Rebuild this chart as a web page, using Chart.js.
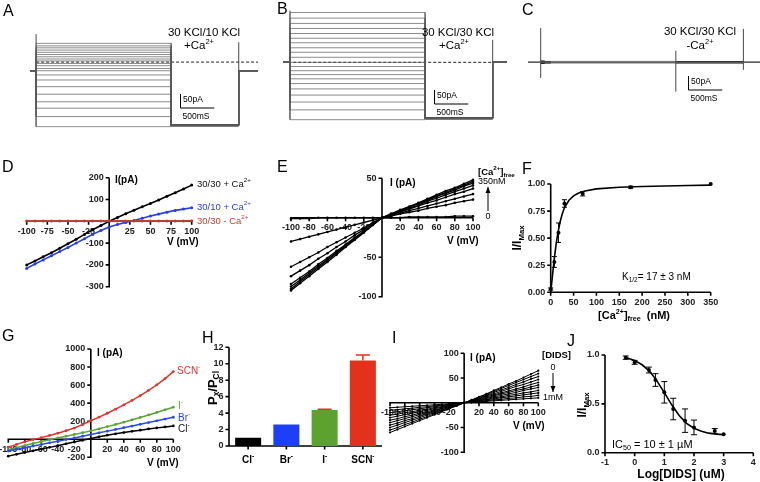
<!DOCTYPE html>
<html>
<head>
<meta charset="utf-8">
<script src="https://cdn.jsdelivr.net/npm/chart.js@4.4.0/dist/chart.umd.min.js"></script>
<style>
  html, body { margin: 0; padding: 0; background: #fff; }
  #wrap { position: relative; width: 760px; height: 482px; overflow: hidden; background: #fff; }
  #wrap canvas { position: absolute; left: 0; top: 0; }
</style>
</head>
<body>
<div id="wrap"></div>
<script>
// ---- data ----
const volts = [-100, -90, -80, -70, -60, -50, -40, -30, -20, -10, 0, 10, 20, 30, 40, 50, 60, 70, 80, 90, 100];

// A-C current traces (pA), step protocol times (ms)
const protocolT = [0, 2000, 3000];
const sweepsA = [98, 89, 82, 74, 66, 58, 50, 42, 35, 26, 18, 8, 0, -15, -33, -57, -84, -111, -134, -164, -200];
const tailA = -195;
const refLevelA = 31;
const spikesA = [[0, 0, 131], [3000, 0, 102]];
const sweepsB = [178, 158, 139, 121, 103, 86, 70, 52, 36, 18, 0, -15, -30, -44, -59, -76, -95, -117, -142, -170, -205];
const tailB = -200;
const refLevelB = 0;
const spikesB = [[0, 0, 185], [3000, 0, 80]];
const sweepsC = [-3, -1, 0, 1, 3];
const tailC = 0;
const spikesC = [[0, -56, 122], [2000, -105, 41], [3000, -27, 119]];
const scaleBarPA = 50, scaleBarMS = 500;

// D
const d3030Ca = [-200, -182, -163, -144, -124, -103, -82, -60, -39, -19, 0, 17, 35, 51, 67, 82, 98, 115, 131, 148, 166];
const d3010Ca = [-216, -196, -177, -158, -139, -120, -100, -80, -60, -42, -26, -15, -5, 4, 14, 24, 33, 42, 50, 56, 62];
const d3030noCa = [1, 1, 1, 1, 1, 1, 1, 1, 1, 1, 1, 1, 1, 1, 1, 1, 1, 1, 1, 1, 2];
const dTicksX = [-100, -75, -50, -25, 0, 25, 50, 75, 100];
const dLabelsX = ['-100', '-75', '-50', '-25', '', '25', '50', '75', '100'];
const dTicksY = [-300, -200, -100, 0, 100, 200];
const dLabelsY = ['-300', '-200', '-100', '', '100', '200'];

// E  (one curve per free Ca2+ step, 0 -> 350 nM)
const eCurves = [
  [-1, -1, -1, 0, 0, 0, 0, 0, 0, 0, 0, 0, 0, 1, 1, 1, 1, 1, 2, 2, 2],
  [-30, -27, -24, -21, -18, -15, -12, -9, -6, -3, 0, 2, 5, 7, 9, 12, 14, 16, 19, 21, 23],
  [-62, -56, -50, -44, -37, -31, -25, -19, -13, -6, 0, 3, 6, 9, 12, 15, 18, 21, 24, 27, 30],
  [-74, -67, -60, -52, -45, -37, -30, -22, -15, -7, 0, 4, 7, 11, 15, 19, 22, 26, 30, 33, 37],
  [-84, -76, -68, -59, -51, -42, -34, -25, -17, -8, 0, 4, 8, 12, 16, 21, 25, 29, 33, 37, 41],
  [-87, -79, -70, -61, -53, -44, -35, -26, -18, -9, 0, 4, 9, 13, 18, 22, 27, 31, 35, 40, 44],
  [-90, -81, -72, -63, -54, -45, -36, -27, -18, -9, 0, 5, 9, 14, 18, 23, 28, 32, 37, 41, 46],
  [-92, -83, -74, -65, -56, -47, -37, -28, -19, -9, 0, 5, 10, 14, 19, 24, 29, 34, 38, 43, 48]
];
const ivTicksX = [-100, -80, -60, -40, -20, 0, 20, 40, 60, 80, 100];
const ivLabelsX = ['-100', '-80', '-60', '-40', '-20', '', '20', '40', '60', '80', '100'];
const eTicksY = [-100, -50, 0, 50];
const eLabelsY = ['-100', '-50', '', '50'];

// F
const caConc = [0, 8, 17, 30, 70, 175, 350];
const caResp = [0.03, 0.28, 0.55, 0.82, 0.91, 0.97, 1.0];
const caErr = [0.01, 0.05, 0.09, 0.035, 0.02, 0.01, 0];
const caFitX = [0, 3, 6, 9, 12, 15, 20, 25, 30, 40, 50, 60, 75, 100, 150, 200, 250, 300, 350];
const caFitY = [0, 0.12, 0.24, 0.35, 0.45, 0.53, 0.64, 0.72, 0.78, 0.85, 0.89, 0.915, 0.935, 0.955, 0.97, 0.977, 0.982, 0.986, 0.99];
const fTicksX = [0, 50, 100, 150, 200, 250, 300, 350];
const fTicksY = [0, 0.25, 0.5, 0.75, 1];
const fLabelsY = ['0.00', '0.25', '0.50', '0.75', '1.00'];

// G
const gSCN = [-88, -57, -28, -4, 18, 42, 67, 94, 124, 162, 205, 245, 288, 333, 380, 430, 484, 541, 603, 672, 750];
const gI = [-118, -94, -70, -47, -25, -5, 15, 34, 53, 72, 93, 116, 140, 164, 189, 215, 242, 269, 297, 326, 355];
const gBr = [-130, -111, -93, -75, -58, -40, -22, -4, 14, 33, 52, 71, 90, 109, 128, 146, 165, 185, 204, 224, 244];
const gCl = [-187, -167, -147, -128, -109, -90, -71, -51, -31, -11, 8, 27, 45, 60, 74, 88, 101, 114, 126, 137, 148];
const gTicksY = [-200, 0, 200, 400, 600, 800, 1000];
const gLabelsY = ['-200', '', '200', '400', '600', '800', '1000'];

// H
const anions = ['Cl', 'Br', 'I', 'SCN'];
const permRatio = [1.0, 2.6, 4.38, 10.4];
const permErr = [0, 0, 0.08, 0.65];
const hTicksY = [0, 2, 4, 6, 8, 10, 12];

// I  (one curve per DIDS step, 0 -> 1 mM)
const iCurves = [
  [-60, -54, -48, -42, -36, -30, -24, -18, -12, -6, 0, 6, 12, 18, 25, 31, 38, 44, 51, 58, 65],
  [-55, -50, -44, -39, -33, -28, -22, -17, -11, -6, 0, 5, 11, 17, 23, 29, 35, 41, 47, 53, 59],
  [-50, -45, -40, -35, -30, -25, -20, -15, -10, -5, 0, 5, 10, 15, 21, 26, 31, 37, 42, 48, 53],
  [-45, -41, -36, -32, -27, -23, -18, -14, -9, -5, 0, 4, 9, 14, 18, 23, 28, 33, 37, 42, 47],
  [-40, -36, -32, -28, -24, -20, -16, -12, -8, -4, 0, 4, 8, 12, 16, 20, 24, 28, 32, 37, 41],
  [-35, -32, -28, -25, -21, -18, -14, -11, -7, -4, 0, 3, 7, 10, 14, 18, 21, 25, 28, 32, 36],
  [-30, -27, -24, -21, -18, -15, -12, -9, -6, -3, 0, 3, 6, 9, 12, 15, 18, 21, 25, 28, 31],
  [-25, -23, -20, -18, -15, -13, -10, -8, -5, -3, 0, 2, 5, 7, 10, 12, 15, 17, 20, 22, 25],
  [-20, -18, -16, -14, -12, -10, -8, -6, -4, -2, 0, 2, 4, 6, 8, 10, 12, 14, 16, 18, 20],
  [-15, -14, -12, -11, -9, -8, -6, -5, -3, -2, 0, 1, 3, 4, 6, 7, 9, 10, 12, 13, 15],
  [-10, -9, -8, -7, -6, -5, -4, -3, -2, -1, 0, 1, 2, 3, 4, 5, 6, 7, 8, 9, 10]
];
const iTicksY = [-100, -50, 0, 50, 100];
const iLabelsY = ['-100', '-50', '', '50', '100'];

// J
const didsLog = [-0.3, 0, 0.48, 0.7, 1, 1.3, 1.7, 2, 2.7, 3];
const didsResp = [0.973, 0.925, 0.846, 0.744, 0.618, 0.447, 0.328, 0.259, 0.222, 0.188];
const didsErr = [0.017, 0.02, 0.03, 0.065, 0.11, 0.11, 0.12, 0.075, 0.025, 0];
const didsFitX = [-0.3, 0, 0.25, 0.5, 0.75, 1, 1.25, 1.5, 1.75, 2, 2.25, 2.5, 2.75, 3];
const didsFitY = [0.975, 0.945, 0.9, 0.835, 0.735, 0.615, 0.49, 0.38, 0.3, 0.25, 0.22, 0.2, 0.19, 0.185];
const jTicksX = [-1, 0, 1, 2, 3, 4];
const jTicksY = [0, 0.5, 1];
const jLabelsY = ['0.0', '0.5', '1.0'];

// ---- helpers ----
const wrap = document.getElementById('wrap');
const FONT = '"Liberation Sans", Arial, sans-serif';

function txt(ctx, x, y, parts, o = {}) {
  const size = o.size || 10, weight = o.weight || 'normal';
  if (typeof parts === 'string') parts = [[parts, 0]];
  ctx.save();
  ctx.fillStyle = o.color || '#000';
  ctx.textBaseline = 'middle';
  ctx.textAlign = 'left';
  const fnt = p => `${weight} ${p[1] ? size * 0.65 : size}px ${FONT}`;
  let w = 0;
  parts.forEach(p => { ctx.font = fnt(p); w += ctx.measureText(p[0]).width; });
  let cx = o.align === 'center' ? x - w / 2 : o.align === 'right' ? x - w : x;
  parts.forEach(p => {
    ctx.font = fnt(p);
    ctx.fillText(p[0], cx, y + (p[1] === 1 ? -size * 0.35 : p[1] === -1 ? size * 0.32 : 0));
    cx += ctx.measureText(p[0]).width;
  });
  ctx.restore();
}
function vtxt(ctx, x, y, parts, o) {
  ctx.save(); ctx.translate(x, y); ctx.rotate(-Math.PI / 2);
  txt(ctx, 0, 0, parts, Object.assign({ align: 'center' }, o));
  ctx.restore();
}
function arrow(ctx, x, y1, y2) {
  ctx.save(); ctx.strokeStyle = '#000'; ctx.fillStyle = '#000'; ctx.lineWidth = 1;
  ctx.beginPath(); ctx.moveTo(x, y1); ctx.lineTo(x, y2); ctx.stroke();
  const d = y2 > y1 ? 1 : -1;
  ctx.beginPath(); ctx.moveTo(x, y2); ctx.lineTo(x - 2.5, y2 - d * 6); ctx.lineTo(x + 2.5, y2 - d * 6); ctx.fill();
  ctx.restore();
}
function axes(chart, xt, xl, yt, yl, xAt, yAt) {
  const { ctx, chartArea: a, scales: { x, y } } = chart;
  const ax = x.getPixelForValue(yAt), ay = y.getPixelForValue(xAt);
  ctx.save();
  ctx.strokeStyle = '#000'; ctx.lineWidth = 1.6;
  ctx.beginPath();
  ctx.moveTo(a.left - 0.8, ay); ctx.lineTo(a.right, ay);
  ctx.moveTo(ax, a.top); ctx.lineTo(ax, a.bottom + 0.8);
  xt.forEach(v => { const p = x.getPixelForValue(v); ctx.moveTo(p, ay); ctx.lineTo(p, ay + 3.5); });
  yt.forEach(v => { const p = y.getPixelForValue(v); ctx.moveTo(ax, p); ctx.lineTo(ax - 3.5, p); });
  ctx.stroke();
  ctx.restore();
  xt.forEach((v, i) => xl[i] && txt(ctx, x.getPixelForValue(v), ay + 10, xl[i], { size: 9, weight: 'bold', align: 'center', color: '#222' }));
  yt.forEach((v, i) => yl[i] && txt(ctx, ax - 5.5, y.getPixelForValue(v), yl[i], { size: 9, weight: 'bold', align: 'right', color: '#222' }));
}
function errBars(chart, xs, ys, es, cap) {
  const { ctx, scales: { x, y } } = chart;
  ctx.save(); ctx.strokeStyle = '#000'; ctx.lineWidth = 1;
  ctx.beginPath();
  xs.forEach((v, i) => {
    if (!es[i]) return;
    const px = x.getPixelForValue(v), y1 = y.getPixelForValue(ys[i] + es[i]), y2 = y.getPixelForValue(ys[i] - es[i]);
    ctx.moveTo(px, y1); ctx.lineTo(px, y2);
    ctx.moveTo(px - cap, y1); ctx.lineTo(px + cap, y1);
    ctx.moveTo(px - cap, y2); ctx.lineTo(px + cap, y2);
  });
  ctx.stroke(); ctx.restore();
}
function scaleBar(chart, px, py) {
  const { ctx, scales: { x, y } } = chart;
  const h = y.getPixelForValue(0) - y.getPixelForValue(scaleBarPA);
  const w = x.getPixelForValue(scaleBarMS) - x.getPixelForValue(0);
  ctx.save(); ctx.strokeStyle = '#000'; ctx.lineWidth = 1;
  ctx.beginPath(); ctx.moveTo(px, py - h); ctx.lineTo(px, py); ctx.lineTo(px + w, py); ctx.stroke();
  ctx.restore();
  txt(ctx, px + 2.5, py - h / 2 - 1.5, scaleBarPA + 'pA', { size: 8.5 });
  txt(ctx, px + 2, py + 9, scaleBarMS + 'mS', { size: 8.5 });
}
const series = (xs, ys, color, w, r) => ({
  data: xs.map((v, i) => ({ x: v, y: ys[i] })),
  borderColor: color, backgroundColor: color, borderWidth: w,
  pointRadius: r, pointBackgroundColor: color, pointBorderColor: color, pointBorderWidth: 0, clip: false
});
const seg = (pts, color, w, dash) => ({
  data: pts.map(p => ({ x: p[0], y: p[1] })),
  borderColor: color, backgroundColor: color, borderWidth: w, borderDash: dash || [], pointRadius: 0, clip: false
});
function traces(sweeps, tail, ref, refStart, spikes, tmin, tmax) {
  const [t0, t1, t2] = protocolT;
  const ds = sweeps.map(L => seg([[tmin, 0], [t0, 0], [t0, L], [t1, L], [t1, tail], [t2, tail], [t2, 0], [tmax, 0]], '#5a5a5a', 0.7));
  ds.push(seg([[t1, tail], [t2, tail]], '#000', 2.6));
  spikes.forEach(s => ds.push(seg([[s[0], s[1]], [s[0], s[2]]], '#333', 0.9)));
  if (ref !== null) ds.push(seg([[refStart, ref], [tmax, ref]], '#222', 1, [3, 2]));
  return ds;
}

function panel(type, area, xScale, yScale, datasets, before, after, labels) {
  const c = document.createElement('canvas');
  c.width = 760; c.height = 482;
  wrap.appendChild(c);
  return new Chart(c, {
    type,
    data: { labels, datasets },
    options: {
      responsive: false, animation: false, events: [],
      layout: { padding: { left: area[0], top: area[1], right: 760 - area[2], bottom: 482 - area[3] } },
      plugins: { legend: { display: false }, tooltip: { enabled: false } },
      scales: { x: Object.assign({ display: false }, xScale), y: Object.assign({ display: false }, yScale) },
      elements: { line: { tension: 0, fill: false }, point: { radius: 0 } }
    },
    plugins: [{ id: 'deco', beforeDatasetsDraw: before || (() => {}), afterDatasetsDraw: after || (() => {}) }]
  });
}

// ---- A ----
panel('line', [30, 40, 258, 130], { type: 'linear', min: -90, max: 3285 }, { type: 'linear', min: -212, max: 110 },
  traces(sweepsA, tailA, refLevelA, 0, spikesA, -90, 3285), null, chart => {
    const ctx = chart.ctx;
    txt(ctx, 3, 12, 'A', { size: 16 });
    txt(ctx, 204, 33, '30 KCl/10 KCl', { size: 11.5, align: 'center' });
    txt(ctx, 199, 46, [['+Ca', 0], ['2+', 1]], { size: 11.5, align: 'center' });
    scaleBar(chart, 180.5, 108);
  });

// ---- B ----
panel('line', [262, 10, 507, 125], { type: 'linear', min: -414, max: 3212 }, { type: 'linear', min: -224, max: 187 },
  traces(sweepsB, tailB, refLevelB, -100, spikesB, -100, 3212), null, chart => {
    const ctx = chart.ctx;
    txt(ctx, 277, 10, 'B', { size: 16 });
    txt(ctx, 458, 33, '30 KCl/30 KCl', { size: 11.5, align: 'center' });
    txt(ctx, 454, 46, [['+Ca', 0], ['2+', 1]], { size: 11.5, align: 'center' });
    scaleBar(chart, 434.5, 104);
  });

// ---- C ----
(() => {
  const ds = traces(sweepsC, tailC, null, 0, spikesC, -188, 3246);
  ds.push(seg([[0, 0], [60, 0]], '#000', 3.5));
  ds.push(seg([[0, 0], [150, 0]], '#000', 2.5));
  panel('line', [528, 25, 760, 95], { type: 'linear', min: -188, max: 3246 }, { type: 'linear', min: -117, max: 133 },
    ds, null, chart => {
      const ctx = chart.ctx;
      txt(ctx, 522, 11, 'C', { size: 16 });
      txt(ctx, 700, 32, '30 KCl/30 KCl', { size: 11.5, align: 'center' });
      txt(ctx, 700, 46, [['-Ca', 0], ['2+', 1]], { size: 11.5, align: 'center' });
      scaleBar(chart, 688.5, 90);
    });
})();

// ---- D ----
panel('line', [26.7, 177.7, 191.7, 286.7], { type: 'linear', min: -100, max: 100 }, { type: 'linear', min: -300, max: 200 }, [
  series(volts, d3030noCa, '#c43b2c', 1.6, 1.5),
  series(volts, d3010Ca, '#2b3cf0', 1.6, 1.5),
  series(volts, d3030Ca, '#000', 1.6, 1.5)
], chart => axes(chart, dTicksX, dLabelsX, dTicksY, dLabelsY, 0, 0), chart => {
  const ctx = chart.ctx;
  txt(ctx, 2, 168, 'D', { size: 16 });
  txt(ctx, 115, 180, 'I(pA)', { size: 10, weight: 'bold' });
  txt(ctx, 167, 242, 'V (mV)', { size: 10, weight: 'bold' });
  txt(ctx, 197, 184, [['30/30 + Ca', 0], ['2+', 1]], { size: 9.5, color: '#111' });
  txt(ctx, 197, 207, [['30/10 + Ca', 0], ['2+', 1]], { size: 9.5, color: '#2b3cf0' });
  txt(ctx, 197, 221, [['30/30 - Ca', 0], ['2+', 1]], { size: 9.5, color: '#c43b2c' });
});

// ---- E ----
panel('line', [291, 178.3, 473, 296.7], { type: 'linear', min: -100, max: 100 }, { type: 'linear', min: -100, max: 50 },
  eCurves.map(c => series(volts, c, '#000', 1.3, 1.3)),
  chart => axes(chart, ivTicksX, ivLabelsX, eTicksY, eLabelsY, 0, 0), chart => {
    const ctx = chart.ctx;
    txt(ctx, 277, 168, 'E', { size: 16 });
    txt(ctx, 390, 183, 'I (pA)', { size: 10, weight: 'bold' });
    txt(ctx, 447, 241, 'V (mV)', { size: 10, weight: 'bold' });
    txt(ctx, 478, 172, [['[Ca', 0], ['2+', 1], [']', 0], ['free', -1]], { size: 9.5, weight: 'bold' });
    txt(ctx, 478, 182, '350nM', { size: 9 });
    arrow(ctx, 488, 211, 187);
    txt(ctx, 488, 217, '0', { size: 9, align: 'center' });
  });

// ---- F ----
panel('line', [550.7, 184, 710.7, 292.3], { type: 'linear', min: 0, max: 350 }, { type: 'linear', min: 0, max: 1 }, [
  series(caFitX, caFitY, '#000', 1.6, 0),
  Object.assign(series(caConc, caResp, '#000', 0, 2), { showLine: false })
], chart => axes(chart, fTicksX, fTicksX.map(String), fTicksY, fLabelsY, 0, 0), chart => {
  const ctx = chart.ctx;
  errBars(chart, caConc, caResp, caErr, 2.5);
  txt(ctx, 522, 170, 'F', { size: 16 });
  vtxt(ctx, 518, 238, [['I/I', 0], ['Max', -1]], { size: 12, weight: 'bold' });
  txt(ctx, 634, 316, [['[Ca', 0], ['2+', 1], [']', 0], ['free', -1], ['  (nM)', 0]], { size: 11, weight: 'bold', align: 'center' });
  txt(ctx, 622, 277, [['K', 0], ['1/2', -1], ['= 17 \u00b1 3 nM', 0]], { size: 10 });
});

// ---- G ----
panel('line', [8.3, 349, 173.3, 457.3], { type: 'linear', min: -100, max: 100 }, { type: 'linear', min: -200, max: 1000 }, [
  series(volts, gCl, '#000', 1.5, 1.4),
  series(volts, gBr, '#2b48ee', 1.5, 1.4),
  series(volts, gI, '#5aa334', 1.5, 1.4),
  series(volts, gSCN, '#e0352b', 1.5, 1.4)
], chart => axes(chart, ivTicksX, ivLabelsX, gTicksY, gLabelsY, 0, 0), chart => {
  const ctx = chart.ctx;
  txt(ctx, 2, 337, 'G', { size: 16 });
  txt(ctx, 97, 353, 'I (pA)', { size: 10, weight: 'bold' });
  txt(ctx, 147, 463, 'V (mV)', { size: 10, weight: 'bold' });
  txt(ctx, 177, 371, [['SCN', 0], ['-', 1]], { size: 10, color: '#e0352b' });
  txt(ctx, 178, 406, [['I', 0], ['-', 1]], { size: 10, color: '#5aa334' });
  txt(ctx, 178, 418, [['Br', 0], ['-', 1]], { size: 10, color: '#2b48ee' });
  txt(ctx, 178, 429, [['Cl', 0], ['-', 1]], { size: 10, color: '#111' });
});

// ---- H ----
const hColors = ['#000', '#1d3ff7', '#5ba22e', '#e3321c'];
panel('bar', [229, 347.3, 382, 446], { type: 'category', offset: true }, { type: 'linear', min: 0, max: 12 }, [{
  data: permRatio, backgroundColor: hColors, borderColor: hColors, borderWidth: 0,
  barPercentage: 0.68, categoryPercentage: 1
}], chart => {
  const { ctx, chartArea: a, scales: { x, y } } = chart;
  ctx.save(); ctx.strokeStyle = '#000'; ctx.lineWidth = 1.6; ctx.beginPath();
  ctx.moveTo(a.left, a.top); ctx.lineTo(a.left, a.bottom + 0.8);
  ctx.moveTo(a.left - 0.8, a.bottom); ctx.lineTo(a.right, a.bottom);
  hTicksY.forEach(v => { const p = y.getPixelForValue(v); ctx.moveTo(a.left, p); ctx.lineTo(a.left - 3.5, p); });
  anions.forEach((n, i) => { const p = x.getPixelForValue(i); ctx.moveTo(p, a.bottom); ctx.lineTo(p, a.bottom + 3.5); });
  ctx.stroke(); ctx.restore();
  hTicksY.forEach(v => txt(ctx, a.left - 5.5, y.getPixelForValue(v), String(v), { size: 9, weight: 'bold', align: 'right', color: '#222' }));
}, chart => {
  const { ctx, scales: { x, y } } = chart;
  ctx.save(); ctx.lineWidth = 1.5; ctx.beginPath();
  permErr.forEach((e, i) => {
    if (!e) return;
    const px = x.getPixelForValue(i), y1 = y.getPixelForValue(permRatio[i]), y2 = y.getPixelForValue(permRatio[i] + e);
    ctx.strokeStyle = hColors[i];
    ctx.moveTo(px, y1); ctx.lineTo(px, y2); ctx.moveTo(px - 7, y2); ctx.lineTo(px + 7, y2);
  });
  ctx.stroke(); ctx.restore();
  anions.forEach((n, i) => txt(ctx, x.getPixelForValue(i), 460, [[n, 0], ['-', 1]], { size: 10, weight: 'bold', align: 'center' }));
  txt(ctx, 202, 339, 'H', { size: 16 });
  vtxt(ctx, 213, 388, [['P', 0], ['x', -1], ['/P', 0], ['Cl', -1]], { size: 13, weight: 'bold' });
}, anions);

// ---- I ----
panel('line', [390, 353.3, 538.3, 452.3], { type: 'linear', min: -100, max: 100 }, { type: 'linear', min: -100, max: 100 },
  iCurves.map(c => series(volts, c, '#000', 1, 1.1)),
  chart => axes(chart, ivTicksX, ivLabelsX, iTicksY, iLabelsY, 0, 0), chart => {
    const ctx = chart.ctx;
    txt(ctx, 392, 339, 'I', { size: 16 });
    txt(ctx, 470, 358, 'I (pA)', { size: 10, weight: 'bold' });
    txt(ctx, 513, 426, 'V (mV)', { size: 10, weight: 'bold' });
    txt(ctx, 542, 355, '[DIDS]', { size: 9.5, weight: 'bold' });
    txt(ctx, 553, 368, '0', { size: 9, align: 'center' });
    arrow(ctx, 553, 373, 392);
    txt(ctx, 543, 398, '1mM', { size: 9 });
  });

// ---- J ----
panel('line', [605, 355, 753.3, 452.7], { type: 'linear', min: -1, max: 4 }, { type: 'linear', min: 0, max: 1 }, [
  series(didsFitX, didsFitY, '#000', 1.6, 0),
  Object.assign(series(didsLog, didsResp, '#000', 0, 2), { showLine: false })
], chart => axes(chart, jTicksX, jTicksX.map(String), jTicksY, jLabelsY, 0, -1), chart => {
  const ctx = chart.ctx;
  errBars(chart, didsLog, didsResp, didsErr, 3);
  txt(ctx, 567, 342, 'J', { size: 16 });
  vtxt(ctx, 583, 405, [['I/I', 0], ['Max', -1]], { size: 12, weight: 'bold' });
  txt(ctx, 681, 475, 'Log[DIDS] (uM)', { size: 12, weight: 'bold', align: 'center' });
  txt(ctx, 612, 445, [['IC', 0], ['50', -1], [' = 10 \u00b1 1 \u00b5M', 0]], { size: 11 });
});
</script>
</body>
</html>
